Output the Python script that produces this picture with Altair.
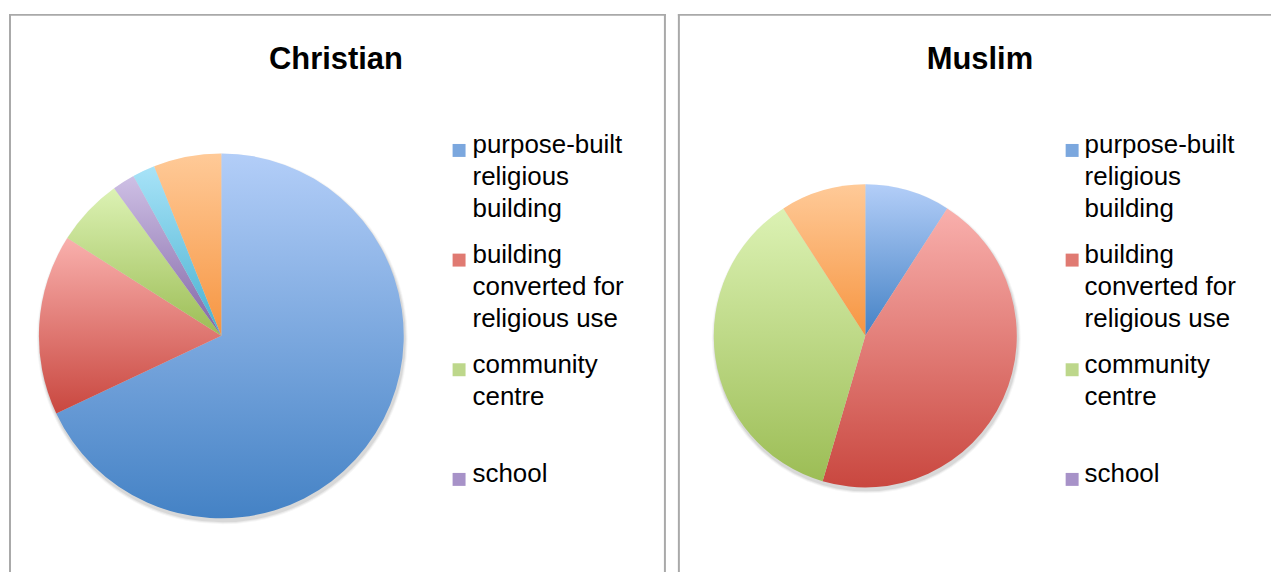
import altair as alt
import pandas as pd

# ---- data ----
types = [
    "purpose-built religious building",
    "building converted for religious use",
    "community centre",
    "school",
    "private home",
    "other",
]
legend_types = types[:4]
legend_labels = [
    "purpose-built|religious|building",
    "building|converted for|religious use",
    "community|centre",
    "school",
]
christian = [68, 16, 6, 2, 2, 6]
muslim = [9.1, 45.5, 36.4, 0, 0, 9.1]

# ---- styling ----
solid = ["#7ba7de", "#e07a72", "#bdd78b", "#a792c8", "#80cde5", "#f9ae70"]
grad_top = ["#b3cef8", "#f9b0ad", "#dcf2b4", "#cec0e5", "#a8e3f8", "#ffca98"]
grad_bot = ["#4482c5", "#c9473f", "#9cbd55", "#8165a5", "#47b0cf", "#f69541"]
FONT = "Liberation Sans"
BORDER = "#a9a9a9"
PANEL_H = 560


def gradient(i):
    return {
        "gradient": "linear",
        "x1": 0, "y1": 0, "x2": 0, "y2": 1,
        "stops": [
            {"offset": 0, "color": grad_top[i]},
            {"offset": 1, "color": grad_bot[i]},
        ],
    }


def panel(title, vals, w, cx, cy, r, tx, sq_x, lab_x, right_border):
    df = pd.DataFrame({"type": types, "value": vals, "idx": list(range(len(types)))})
    leg = pd.DataFrame({"type": legend_types, "label": legend_labels})
    one = pd.DataFrame({"k": [0]})

    theta = alt.Theta("value:Q", stack=True)
    order = alt.Order("idx:Q")
    color_scale = alt.Scale(domain=types, range=solid)

    # soft drop shadow under the pie
    shadows = [
        alt.Chart(df).transform_aggregate(total="sum(value)").mark_arc(
            radius=r + dr, color="#000000", opacity=op
        ).encode(theta=alt.Theta("total:Q"), x=alt.value(cx + 1), y=alt.value(cy + 3))
        for dr, op in [(3, 0.035), (2, 0.05), (1, 0.07)]
    ]

    fill_cond = [
        {"test": f"datum.type === '{t}'", "value": gradient(i)}
        for i, t in enumerate(types)
    ]
    pie = alt.Chart(df).mark_arc(radius=r).encode(
        theta=theta,
        order=order,
        fill={"condition": fill_cond, "value": solid[0]},
        x=alt.value(cx),
        y=alt.value(cy),
    )

    legend_y = alt.Y(
        "type:N", sort=legend_types, axis=None,
        scale=alt.Scale(type="point", padding=0, domain=legend_types, range=[137, 467]),
    )
    squares = alt.Chart(leg).mark_square(size=169, opacity=1).encode(
        x=alt.value(sq_x),
        y=legend_y,
        color=alt.Color("type:N", scale=color_scale, legend=None),
    )
    labels = alt.Chart(leg).mark_text(
        font=FONT, fontSize=26, color="#000000", align="left",
        baseline="alphabetic", lineBreak="|", lineHeight=32, dy=3,
    ).encode(
        x=alt.value(lab_x),
        y=legend_y,
        text="label:N",
    )

    title_txt = alt.Chart(one).mark_text(
        text=title, font=FONT, fontSize=31, fontWeight="bold", color="#000000",
        align="center", baseline="middle",
    ).encode(x=alt.value(tx), y=alt.value(46))

    left = alt.Chart(one).mark_rule(color=BORDER, strokeWidth=2).encode(
        x=alt.value(1), y=alt.value(0), y2=alt.value(PANEL_H))
    top = alt.Chart(one).mark_rule(color=BORDER, strokeWidth=2).encode(
        x=alt.value(0), x2=alt.value(w), y=alt.value(1))
    layers = [left, top]
    if right_border:
        layers.append(alt.Chart(one).mark_rule(color=BORDER, strokeWidth=2).encode(
            x=alt.value(w - 1), y=alt.value(0), y2=alt.value(PANEL_H)))
    layers += shadows + [pie, squares, labels, title_txt]
    return alt.layer(*layers).properties(width=w, height=PANEL_H)


left_panel = panel("Christian", christian, 659, 213, 323, 183, 328, 451.5, 465, True)
right_panel = panel("Muslim", muslim, 595, 188, 323, 152, 303, 395.5, 408, False)

chart = (
    alt.hconcat(left_panel, right_panel, spacing=10)
    .resolve_scale(color="independent", y="independent")
    .properties(padding={"left": 0, "top": 4, "right": 0, "bottom": 0})
    .configure_view(stroke=None)
)

chart.save("out.html", embed_options={"renderer": "svg", "actions": False})
